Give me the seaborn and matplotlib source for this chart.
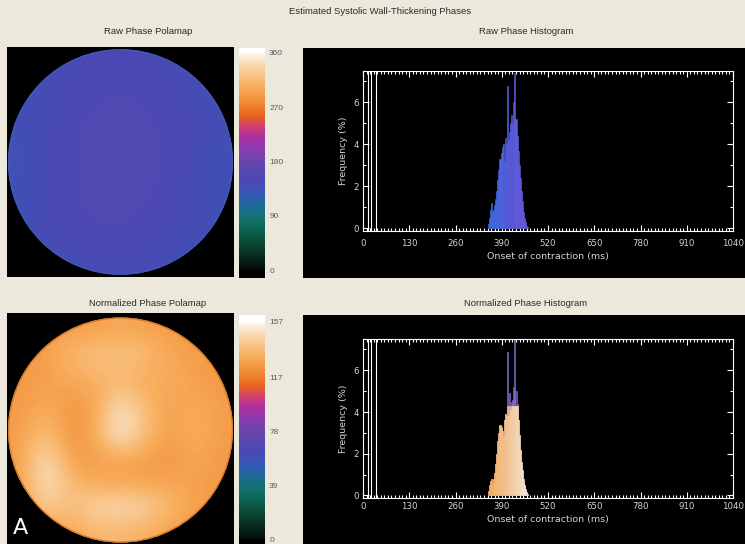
import numpy as np
import pandas as pd
import matplotlib
matplotlib.use("Agg")
import matplotlib.pyplot as plt
import seaborn as sns
from matplotlib.colors import LinearSegmentedColormap, Normalize
from matplotlib.patches import Circle
from matplotlib.ticker import MultipleLocator

# ---------------- data ----------------
main_title = "Estimated Systolic Wall-Thickening Phases"
raw_map_title = "Raw Phase Polamap"
raw_hist_title = "Raw Phase Histogram"
norm_map_title = "Normalized Phase Polamap"
norm_hist_title = "Normalized Phase Histogram"
x_label = "Onset of contraction (ms)"
y_label = "Frequency (%)"

raw_cbar_ticks = [0, 90, 180, 270, 360]
norm_cbar_ticks = [0, 39, 78, 117, 157]
x_ticks = [0, 130, 260, 390, 520, 650, 780, 910, 1040]
y_ticks = [0, 2, 4, 6]

onset_ms = [352, 355, 358, 361, 364, 367, 370, 373, 376, 379, 382, 385, 388,
            391, 394, 397, 400, 403, 406, 409, 412, 415, 418, 421, 424, 427,
            430, 433, 436, 439, 442, 445, 448, 451, 454, 457, 460, 463]
raw_freq = [0.2, 0.5, 0.9, 1.2, 0.8, 0.9, 1.1, 1.4, 1.8, 2.3, 2.8, 3.3, 3.6,
            3.9, 4.0, 3.2, 4.3, 4.0, 6.8, 4.2, 4.6, 5.0, 5.4, 5.0, 6.0, 7.4,
            5.2, 4.4, 3.7, 3.0, 2.4, 1.8, 1.3, 0.8, 0.5, 0.3, 0.1, 0.05]
norm_freq = [0.2, 0.5, 0.7, 0.8, 0.6, 0.8, 1.1, 1.5, 2.0, 2.6, 3.0, 3.4, 3.3,
             3.1, 2.8, 3.6, 3.9, 3.8, 6.9, 3.8, 4.9, 4.1, 4.5, 4.6, 5.2, 7.6,
             5.0, 4.4, 3.6, 2.9, 2.2, 1.6, 1.2, 0.8, 0.5, 0.3, 0.15, 0.05]

# coarse phase maps (rows top -> bottom)
raw_grid = [
    [140, 142, 145, 146, 144, 140, 138],
    [138, 145, 150, 152, 150, 144, 138],
    [136, 146, 152, 155, 152, 146, 138],
    [134, 146, 154, 156, 153, 145, 136],
    [136, 147, 153, 155, 151, 144, 136],
    [138, 146, 150, 151, 148, 142, 136],
    [138, 140, 143, 144, 142, 138, 135],
]
norm_grid = [
    [126, 126, 127, 128, 130, 128, 127, 126, 126],
    [126, 127, 136, 140, 140, 138, 130, 127, 126],
    [126, 128, 130, 133, 136, 130, 132, 128, 126],
    [126, 131, 125, 128, 150, 136, 128, 131, 127],
    [127, 138, 123, 131, 160, 138, 127, 133, 127],
    [127, 150, 126, 127, 133, 128, 125, 131, 126],
    [127, 154, 136, 128, 126, 127, 128, 128, 126],
    [126, 145, 138, 148, 150, 146, 136, 128, 126],
    [126, 128, 130, 135, 135, 133, 128, 126, 126],
]

# phase colour scale (position in degrees, colour)
cmap_deg = [0, 20, 45, 65, 85, 105, 125, 145, 175, 200, 220, 237, 255, 275, 305, 340, 360]
cmap_col = ["#050a08", "#08281c", "#0c4a38", "#0e6452", "#137470", "#1e6a98",
            "#3658b8", "#4a4ab4", "#6448ac", "#8a3cb0", "#b030a0", "#d04070",
            "#e86420", "#f08830", "#f8b060", "#f8d8b0", "#fff8f0"]

# ---------------- style ----------------
sns.set_theme(style="white")
plt.rcParams["font.family"] = ["Liberation Sans", "DejaVu Sans"]
W, H = 745, 544
BG = "#ece9dc"
TXT = "#2a2a2a"
LBL = "#d4d4d4"

phase_cmap = LinearSegmentedColormap.from_list(
    "phase", list(zip(np.array(cmap_deg) / 360.0, cmap_col)))
phase_cmap.set_under("#000000")
phase_cmap.set_over("#ffffff")

fig = plt.figure(figsize=(W / 100, H / 100), dpi=100, facecolor=BG)


def box(x0, y0, x1, y1):
    return [x0 / W, 1 - y1 / H, (x1 - x0) / W, (y1 - y0) / H]


def ftext(x, y, s, **kw):
    fig.text(x / W, 1 - y / H, s, ha="center", va="center", **kw)


ftext(380, 12, main_title, fontsize=6.8, color=TXT)
ftext(148, 32, raw_map_title, fontsize=6.8, color=TXT)
ftext(526, 32, raw_hist_title, fontsize=6.8, color=TXT)
ftext(148, 303, norm_map_title, fontsize=6.8, color=TXT)
ftext(526, 303, norm_hist_title, fontsize=6.8, color=TXT)


def polarmap(rect, grid, vmax, ylim, rim):
    ax = fig.add_axes(rect)
    ax.set_facecolor("black")
    im = ax.imshow(np.array(grid, float), extent=(-1, 1, 1, -1), cmap=phase_cmap,
                   norm=Normalize(0, vmax), interpolation="bicubic", aspect="auto")
    circ = Circle((0, 0), 1.0, transform=ax.transData)
    im.set_clip_path(circ)
    ax.add_patch(Circle((0, 0), 0.995, fill=False, edgecolor=rim, lw=1.0))
    ax.set_xlim(-1.009, 1.009)
    ax.set_ylim(*ylim)
    ax.set_xticks([])
    ax.set_yticks([])
    for s in ax.spines.values():
        s.set_visible(False)
    return ax


polarmap(box(7, 47, 234, 277), raw_grid, 360, (1.02, -1.02), "#3e58b8")
polarmap(box(7, 313, 234, 544), norm_grid, 157, (1.013, -1.04), "#d8782c")
fig.text(20 / W, 1 - 528 / H, "A", color="white", fontsize=16, ha="center",
         va="center", family="DejaVu Sans")


def colorbar(rect, vmax, lo, hi, ticks):
    ax = fig.add_axes(rect)
    grad = np.linspace(lo, hi, 400)[:, None] / vmax * 360.0
    ax.imshow(grad, extent=(0, 1, lo, hi), origin="lower", aspect="auto",
              cmap=phase_cmap, norm=Normalize(0, 360), interpolation="bilinear")
    ax.set_xlim(0, 1)
    ax.set_ylim(lo, hi)
    ax.set_xticks([])
    ax.yaxis.tick_right()
    ax.set_yticks(ticks)
    ax.set_yticklabels([str(t) for t in ticks])
    ax.tick_params(axis="y", length=0, pad=3, labelsize=6, labelcolor="#5a5a5a")
    for s in ax.spines.values():
        s.set_visible(False)


colorbar(box(239, 48, 265, 278), 360, -13, 368, raw_cbar_ticks)
colorbar(box(239, 315, 265, 544), 157, -2.9, 162, norm_cbar_ticks)

BINW = 3.0
BINR = (onset_ms[0] - BINW / 2, onset_ms[-1] + BINW / 2)


def lighten(c, f):
    r, g, b, a = c
    return (min(1, r * f), min(1, g * f), min(1, b * f), a)


def hist_panel(outer, inner, freq, kind, xpad):
    axo = fig.add_axes(outer)
    axo.set_facecolor("black")
    axo.set_xticks([])
    axo.set_yticks([])
    for s in axo.spines.values():
        s.set_visible(False)

    ax = fig.add_axes(inner)
    ax.set_facecolor("black")
    df = pd.DataFrame({"ms": onset_ms, "freq": freq})
    if kind == "raw":
        sns.histplot(data=df, x="ms", weights="freq", binwidth=BINW, binrange=BINR,
                     ax=ax, element="bars", fill=True, alpha=1, linewidth=0)
        for p in ax.patches:
            c = p.get_x() + p.get_width() / 2
            col = lighten(phase_cmap(c / 1040.0), 1.25)
            p.set_facecolor(col)
            p.set_edgecolor(col)
            p.set_linewidth(0.4)
    else:
        sns.histplot(data=df, x="ms", weights="freq", binwidth=BINW, binrange=BINR,
                     ax=ax, element="bars", fill=True, alpha=1, linewidth=0,
                     color="#6a4ab0")
        n0 = len(ax.patches)
        df["body"] = np.minimum(df["freq"], 4.3)
        sns.histplot(data=df, x="ms", weights="body", binwidth=BINW, binrange=BINR,
                     ax=ax, element="bars", fill=True, alpha=1, linewidth=0)
        for i, p in enumerate(ax.patches):
            if i < n0:
                p.set_facecolor("#5a3ea8")
                p.set_edgecolor("#9080d0")
                p.set_linewidth(0.4)
                continue
            c = p.get_x() + p.get_width() / 2
            t = (c - onset_ms[0]) / (onset_ms[-1] - onset_ms[0])
            col = phase_cmap(0.84 + 0.14 * t)
            p.set_facecolor(col)
            p.set_edgecolor(col)
            p.set_linewidth(0.4)
    for xv in (13, 22, 36):
        ax.axvline(xv, color="white", lw=0.8)
    ax.set_xlim(0, 1030)
    ax.set_ylim(-0.12, 7.5)
    ax.set_xticks(x_ticks)
    ax.set_xticklabels([str(t) for t in x_ticks])
    ax.set_yticks(y_ticks)
    ax.set_yticklabels([str(t) for t in y_ticks])
    ax.xaxis.set_minor_locator(MultipleLocator(10))
    ax.yaxis.set_minor_locator(MultipleLocator(1))
    ax.tick_params(which="both", direction="in", color="white", top=True,
                   right=True, bottom=True, left=True, labelcolor=LBL,
                   labelsize=6.2)
    ax.tick_params(which="major", length=4, width=0.8)
    ax.tick_params(which="minor", length=2, width=0.8)
    ax.tick_params(axis="x", pad=xpad)
    ax.tick_params(axis="y", pad=3)
    for lab in ax.get_xticklabels() + ax.get_yticklabels():
        lab.set_family("DejaVu Sans")
    ax.set_xlabel(x_label, color=LBL, fontsize=6.8, family="DejaVu Sans", labelpad=3)
    ax.set_ylabel(y_label, color=LBL, fontsize=6.8, family="DejaVu Sans", labelpad=4)
    for s in ax.spines.values():
        s.set_visible(True)
        s.set_color("white")
        s.set_linewidth(0.8)
    ax.grid(False)


hist_panel(box(303, 48, 745, 278), box(363, 71, 733, 231), raw_freq, "raw", 6)
hist_panel(box(303, 315, 745, 544), box(363, 339, 733, 498), norm_freq, "norm", 3)

fig.savefig("out.png", dpi=100, facecolor=BG)
